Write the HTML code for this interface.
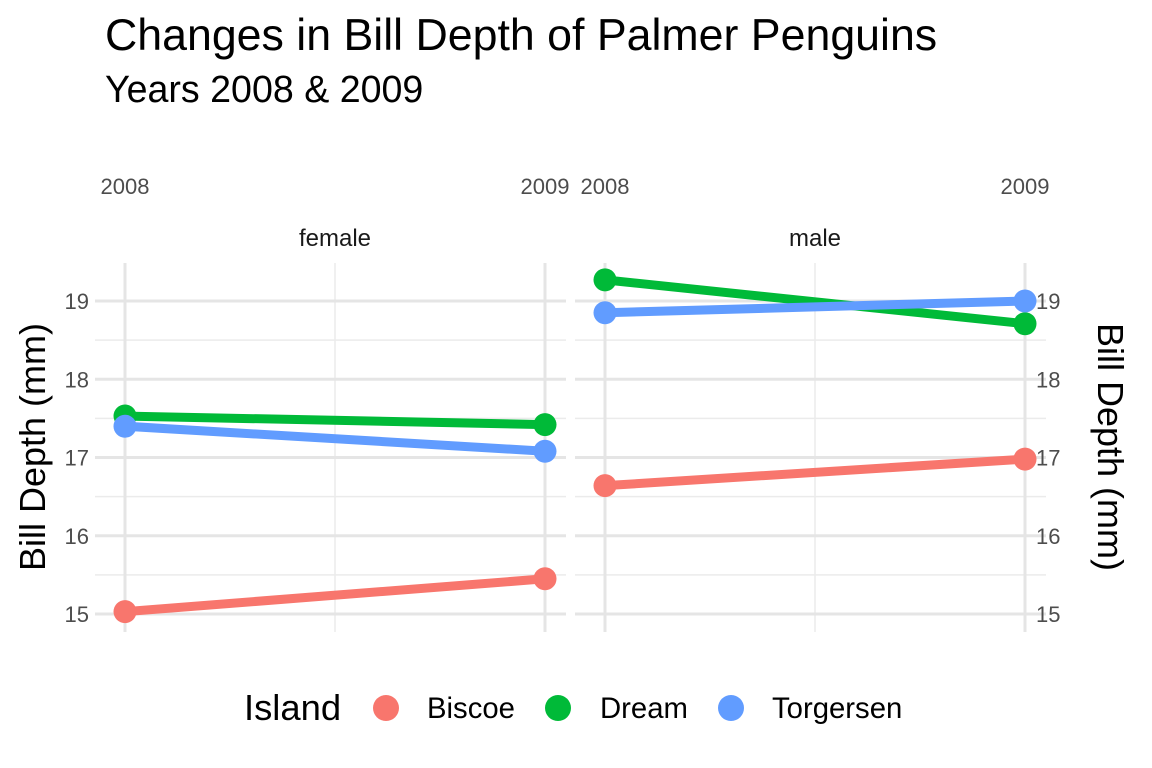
<!DOCTYPE html>
<html><head><meta charset="utf-8"><style>
html,body{margin:0;padding:0;background:#fff;}
svg{display:block;font-family:"Liberation Sans",sans-serif;}
</style></head><body>
<svg id="chart" width="1152" height="768" viewBox="0 0 1152 768">
<text x="105" y="50" font-size="44.7" fill="#000">Changes in Bill Depth of Palmer Penguins</text>
<text x="105" y="102" font-size="37.6" fill="#000">Years 2008 &amp; 2009</text>
<g id="grid"></g>
<g id="marks"></g>
<g id="labels"></g>
<text transform="translate(45,447) rotate(-90)" text-anchor="middle" font-size="36">Bill Depth (mm)</text>
<text transform="translate(1098,447) rotate(90)" text-anchor="middle" font-size="36">Bill Depth (mm)</text>
<g>
<text x="244" y="720" font-size="36.4">Island</text>
<circle cx="386" cy="708" r="13" fill="#F8766D"/>
<text x="427" y="718" font-size="29.3">Biscoe</text>
<circle cx="558" cy="708" r="13" fill="#00BA38"/>
<text x="600" y="718" font-size="29.3">Dream</text>
<circle cx="731" cy="708" r="13" fill="#619CFF"/>
<text x="772" y="718" font-size="29.3">Torgersen</text>
</g>
</svg>
<script>
const years = ["2008", "2009"];
const panels = ["female", "male"];
const islands = ["Biscoe", "Dream", "Torgersen"];
const femaleValues = [[15.03, 15.45], [17.53, 17.42], [17.40, 17.08]];
const maleValues = [[16.64, 16.98], [19.27, 18.71], [18.85, 19.00]];
const yTicks = [15, 16, 17, 18, 19];
const colors = {Biscoe: "#F8766D", Dream: "#00BA38", Torgersen: "#619CFF"};

const NS = "http://www.w3.org/2000/svg";
const panelLeft = [105, 585], panelW = 461;
function xScale(p, i) { return panelLeft[p] + 20 + i * 420; }
function yScale(v) { return 614 - (v - 15) * 78.25; }
function mk(tag, attrs, parent) {
  const e = document.createElementNS(NS, tag);
  for (const k in attrs) e.setAttribute(k, attrs[k]);
  parent.appendChild(e); return e;
}
const gridG = document.getElementById("grid"), marksG = document.getElementById("marks"), labelsG = document.getElementById("labels");
const panelTop = 263, panelBottom = 632;
panels.forEach((pn, p) => {
  const L = panelLeft[p], R = L + panelW;
  for (let v = 14.5; v <= 19.5; v += 1) {
    const y = yScale(v); if (y < panelTop || y > panelBottom) continue;
    const l = mk("line", {x1: L - 10, x2: R, y1: y, y2: y, stroke: "#ebebeb", "stroke-width": 1.5}, gridG);
    
    
  }
  const mx = (xScale(p, 0) + xScale(p, 1)) / 2;
  const mv = mk("line", {x1: mx, x2: mx, y1: panelTop, y2: panelBottom, stroke: "#ebebeb", "stroke-width": 1.5}, gridG);
  
  
  yTicks.forEach(t => {
    const y = yScale(t);
    const l = mk("line", {x1: L - 10, x2: R, y1: y, y2: y, stroke: "#e5e5e5", "stroke-width": 3}, gridG);
    
    
  });
  years.forEach((yr, i) => {
    const x = xScale(p, i);
    const l = mk("line", {x1: x, x2: x, y1: panelTop, y2: panelBottom, stroke: "#e5e5e5", "stroke-width": 3}, gridG);
    
    
    const t = mk("text", {x: x, y: 194, "text-anchor": "middle", "font-size": 22, fill: "#4d4d4d"}, labelsG);
    t.textContent = yr;
    
    
  });
  const st = mk("text", {x: (xScale(p, 0) + xScale(p, 1)) / 2, y: 246, "text-anchor": "middle", "font-size": 24, fill: "#1a1a1a"}, labelsG);
  st.textContent = pn;
  
  
  const vals = p === 0 ? femaleValues : maleValues;
  islands.forEach((isl, k) => {
    const pts = vals[k];
    const ln = mk("line", {x1: xScale(p, 0), y1: yScale(pts[0]), x2: xScale(p, 1), y2: yScale(pts[1]), stroke: colors[isl], "stroke-width": 9}, marksG);
    
    
    pts.forEach((v, i) => {
      const c = mk("circle", {cx: xScale(p, i), cy: yScale(v), r: 11.5, fill: colors[isl]}, marksG);
      
      
    });
  });
});
yTicks.forEach(t => {
  const y = yScale(t) + 8;
  const a = mk("text", {x: 89, y: y, "text-anchor": "end", "font-size": 22, fill: "#4d4d4d"}, labelsG);
  a.textContent = t;
  
  
  const b = mk("text", {x: 1036, y: y, "text-anchor": "start", "font-size": 22, fill: "#4d4d4d"}, labelsG);
  b.textContent = t;
  
  
});
</script>
</body></html>
